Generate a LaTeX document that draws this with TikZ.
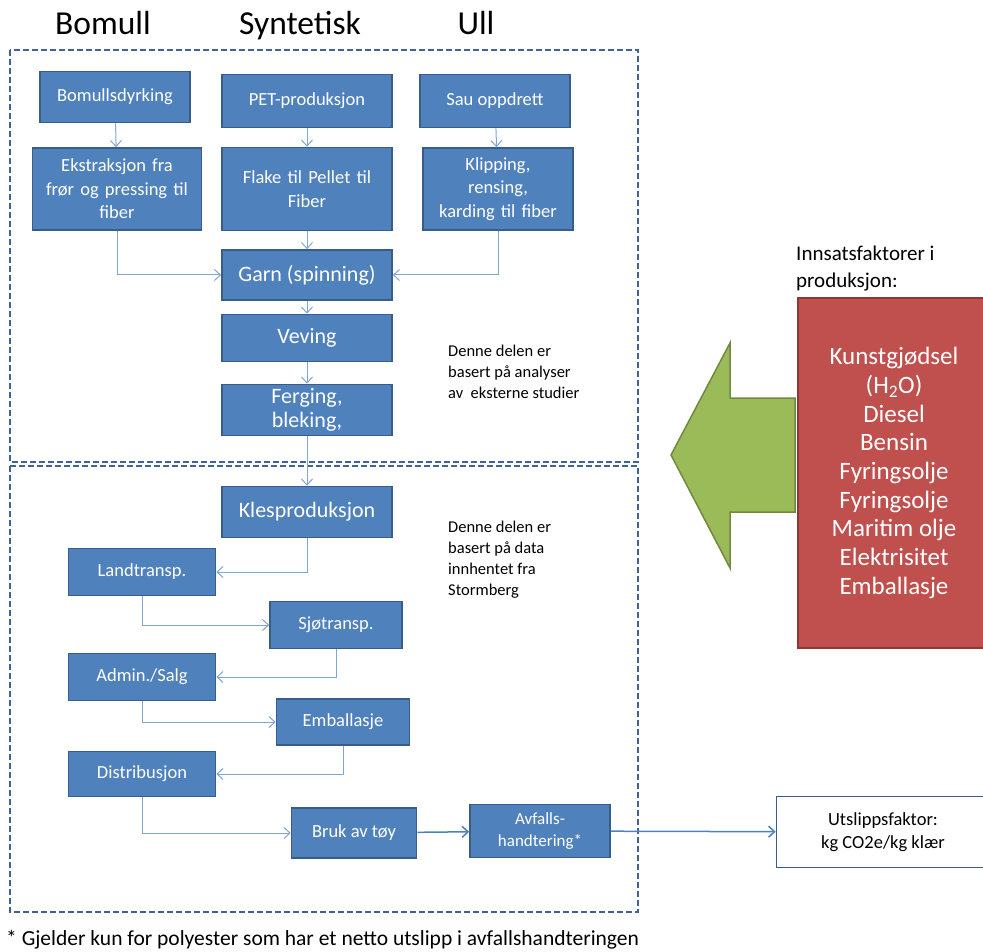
\documentclass[tikz,border=0pt]{standalone}
\usepackage{fontspec}
\setmainfont{Carlito}
\usetikzlibrary{arrows.meta}
\definecolor{boxfill}{HTML}{4F81BD}
\definecolor{boxline}{HTML}{385D8A}
\definecolor{secline}{HTML}{3E6496}
\definecolor{connline}{HTML}{7FA6D6}
\definecolor{redfill}{HTML}{C0504D}
\definecolor{redline}{HTML}{8C3836}
\definecolor{greenfill}{HTML}{9BBB59}
\definecolor{greenline}{HTML}{71893F}
\newcommand{\fs}[2]{\fontsize{#1}{#2}\selectfont}

\begin{document}
\begin{tikzpicture}[x=1pt,y=-1pt,
    blk/.style={draw=boxline,fill=boxfill,line width=1.6pt,text=white,align=center,inner sep=0pt,font=\fs{18.5}{23.5}},
    bigblk/.style={blk,font=\fs{22}{24}},
    title/.style={anchor=base,inner sep=0pt,font=\fs{33.5}{40}},
    sect/.style={draw=secline,line width=2pt,dash pattern=on 6pt off 3pt},
    conn/.style={draw=connline,line width=1pt,-{Straight Barb[length=6pt,width=11pt]}},
    note/.style={align=left,anchor=north west,inner sep=0pt,font=\fs{16.5}{21}}]
      \useasboundingbox (0,0) rectangle (983,952);
      % column titles
      \node[title](tB) at (103,35) {Bomull};
      \node[title](tS) at (300,35) {Syntetisk};
      \node[title](tU) at (476,35) {Ull};
      % the two parts
      \draw[sect] (10,50) rectangle (638,462);
      \draw[sect] (10,466) rectangle (638,912);
      % fibre stage
      \node[blk,minimum width=150,minimum height=51](dyrk) at (115,97) {Bomullsdyrking};
      \node[blk,minimum width=170,minimum height=53](pet) at (307,101) {PET-produksjon};
      \node[blk,minimum width=150,minimum height=53](sau) at (495,101) {Sau oppdrett};
      \node[blk,minimum width=169,minimum height=82,text width=160](ekstr) at (117,189) {Ekstraksjon fra\\frør og pressing til\\fiber};
      \node[blk,minimum width=170,minimum height=83,text width=160](flake) at (307,189) {Flake til Pellet til\\Fiber};
      \node[blk,minimum width=150,minimum height=82,text width=145](klipp) at (498,189) {Klipping,\\rensing,\\karding til fiber};
      \node[bigblk,minimum width=170,minimum height=50](garn) at (307,275) {Garn (spinning)};
      \node[bigblk,minimum width=170,minimum height=47](veving) at (307,338) {Veving};
      \node[bigblk,minimum width=170,minimum height=51](ferg) at (307,410) {Ferging,\\bleking,};
      \node[note](n1) at (448,345) {Denne delen er\\basert på analyser\\av~ eksterne studier};
      % garment stage
      \node[bigblk,minimum width=170,minimum height=51](kles) at (307,512) {Klesproduksjon};
      \node[note](n2) at (448,521) {Denne delen er\\basert på data\\innhentet fra\\Stormberg};
      \node[blk,minimum width=147,minimum height=47](land) at (142,572) {Landtransp.};
      \node[blk,minimum width=132,minimum height=47](sjo) at (336,625) {Sjøtransp.};
      \node[blk,minimum width=147,minimum height=47](admin) at (142,677) {Admin./Salg};
      \node[blk,minimum width=133,minimum height=46](emb) at (343,722) {Emballasje};
      \node[blk,minimum width=147,minimum height=45](distr) at (142,774) {Distribusjon};
      \node[blk,minimum width=125,minimum height=50](bruk) at (354,833) {Bruk av tøy};
      \node[blk,minimum width=140,minimum height=53,font=\fs{17}{22}](avf) at (540,831) {Avfalls-\\handtering*};
      \node[draw=boxline,line width=1.6pt,fill=white,minimum width=213,minimum height=71,align=center,font=\fs{18.5}{23}](utsl) at (883,832) {Utslippsfaktor:\\kg CO2e/kg klær};
      % inputs
      \node[align=left,anchor=north west,inner sep=0pt,font=\fs{21}{27}](inn) at (796,246) {Innsatsfaktorer i\\produksjon:};
      \node[draw=redline,fill=redfill,line width=1.5pt,minimum width=192,minimum height=350,text=white,align=center,font=\fs{25}{28.7}](faktor) at (894,473) {Kunstgjødsel\\(H\textsubscript{2}O)\\Diesel\\Bensin\\Fyringsolje\\Fyringsolje\\Maritim olje\\Elektrisitet\\Emballasje};
      \draw[draw=greenline,fill=greenfill,line width=1.5pt] (671,455) -- (730,343) -- (730,398) -- (795,398) -- (795,512) -- (730,512) -- (730,568) -- cycle;
      % connectors
      \path[conn] (dyrk) edge (ekstr);
      \path[conn] (pet) edge (flake);
      \path[conn] (sau) edge (klipp);
      \draw[conn] (ekstr.south) |- (garn.west);
      \draw[conn] (klipp.south) |- (garn.east);
      \path[conn] (flake) edge (garn);
      \path[conn] (garn) edge (veving);
      \path[conn] (veving) edge (ferg);
      \path[conn] (ferg) edge (kles);
      \draw[conn] (kles.south) |- (land.east);
      \draw[conn] (land.south) |- (sjo.west);
      \draw[conn] (sjo.south) |- (admin.east);
      \draw[conn] (admin.south) |- (emb.west);
      \draw[conn] (emb.south) |- (distr.east);
      \draw[conn] (distr.south) |- (bruk.west);
      \path[conn,line width=1.5pt,draw=boxfill] (bruk) edge (avf);
      \path[conn,line width=1.5pt,draw=boxfill] (avf) edge (utsl);
      \node[anchor=west,inner sep=0pt,font=\fs{21.5}{26}](fot) at (6,940) {* Gjelder kun for polyester som har et netto utslipp i avfallshandteringen};
\end{tikzpicture}
\end{document}
